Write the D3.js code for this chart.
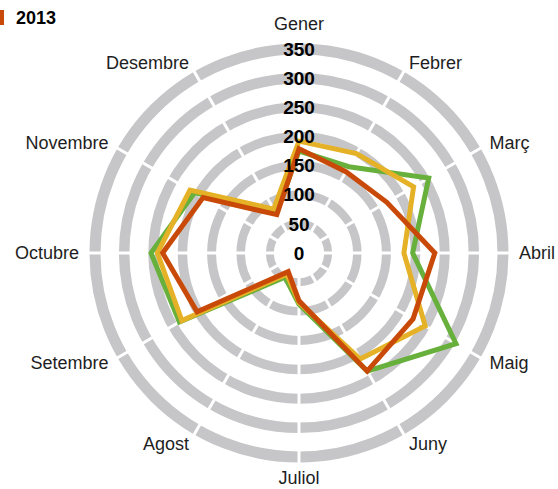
<!DOCTYPE html>
<html>
<head>
<meta charset="utf-8">
<script src="https://cdn.jsdelivr.net/npm/d3@7"></script>
<style>
  body { margin: 0; background: #fff; }
  svg { display: block; font-family: "Liberation Sans", Arial, Helvetica, sans-serif; }
</style>
</head>
<body>
<svg></svg>
<script>
// Months (categories) and ring tick labels
var months = ["Gener", "Febrer", "Març", "Abril", "Maig", "Juny",
              "Juliol", "Agost", "Setembre", "Octubre", "Novembre", "Desembre"];
var ticks = [0, 50, 100, 150, 200, 250, 300, 350];

// Series values, one per month
var seriesGreen  = [175, 171, 257, 195, 311, 234, 88, 48, 237, 254, 207, 78];
var seriesYellow = [192, 197, 227, 180, 250, 210, 85, 42, 232, 243, 216, 87];
var seriesOrange = [179, 161, 174, 233, 226, 234, 82, 37, 202, 234, 190, 76];
var legendLabel = "2013";

var width = 558, height = 489;
var cx = 299, cy = 253, outer = 204;

var svg = d3.select("svg")
    .attr("width", width)
    .attr("height", height);

var g = svg.append("g")
    .attr("transform", `translate(${cx},${cy})`);

// Scales
var angle = d3.scaleBand()
    .domain(months)
    .range([0, 2 * Math.PI])
    .padding(0)
    .align(0);

var r = d3.scaleLinear()
    .domain([0, 350])
    .range([0, outer]);

// Grey rings
g.selectAll("circle.ring")
    .data(ticks.filter(d => d > 0))
    .enter()
    .append("circle")
    .attr("class", "ring")
    .attr("r", d => r(d))
    .attr("fill", "none")
    .attr("stroke", "#c6c6c8")
    .attr("stroke-width", (d, i) => 8 + i * 0.5);

// White spokes cutting the rings
g.selectAll("line.spoke")
    .data(months)
    .enter()
    .append("line")
    .attr("class", "spoke")
    .attr("x1", 0)
    .attr("y1", 0)
    .attr("x2", d => Math.sin(angle(d)) * (outer + 8))
    .attr("y2", d => -Math.cos(angle(d)) * (outer + 8))
    .attr("stroke", "#fff")
    .attr("stroke-width", 3);

// Series lines
var line = d3.lineRadial()
    .angle((d, i) => angle(months[i]))
    .radius(d => r(d))
    .curve(d3.curveLinearClosed);

var series = [
    {values: seriesGreen,  color: "#68b03c"},
    {values: seriesYellow, color: "#e4b127"},
    {values: seriesOrange, color: "#c94a08"}
];

g.selectAll("path.series")
    .data(series)
    .enter()
    .append("path")
    .attr("class", "series")
    .attr("d", d => line(d.values))
    .attr("fill", "none")
    .attr("stroke", d => d.color)
    .attr("stroke-width", 5)
    .attr("stroke-linejoin", "miter");

// Month labels
var labelR = 220;
g.selectAll("text.month")
    .data(months)
    .enter()
    .append("text")
    .attr("class", "month")
    .attr("x", d => Math.sin(angle(d)) * labelR)
    .attr("y", d => {
        var s = Math.sin(angle(d)), c = Math.cos(angle(d));
        var y = -c * labelR;
        if (Math.abs(s) < 0.1) y -= c > 0 ? 9 : -5;
        return y;
    })
    .attr("dy", "0.35em")
    .attr("text-anchor", d => {
        var s = Math.sin(angle(d));
        return s > 0.1 ? "start" : (s < -0.1 ? "end" : "middle");
    })
    .style("font-size", "18px")
    .style("fill", "#1e1e1e")
    .text(d => d);

// Value labels on the rings
g.selectAll("text.tick")
    .data(ticks)
    .enter()
    .append("text")
    .attr("class", "tick")
    .attr("x", 0)
    .attr("y", d => -r(d))
    .attr("dy", "0.35em")
    .attr("text-anchor", "middle")
    .style("font-size", "19px")
    .style("font-weight", "bold")
    .style("fill", "#000")
    .text(d => d);

// Legend
svg.append("rect")
    .attr("x", -10)
    .attr("y", 10)
    .attr("width", 14)
    .attr("height", 15)
    .attr("fill", "#c94a08");

svg.append("text")
    .attr("x", 16)
    .attr("y", 24)
    .style("font-size", "18px")
    .style("font-weight", "bold")
    .style("fill", "#000")
    .text(legendLabel);
</script>
</body>
</html>
